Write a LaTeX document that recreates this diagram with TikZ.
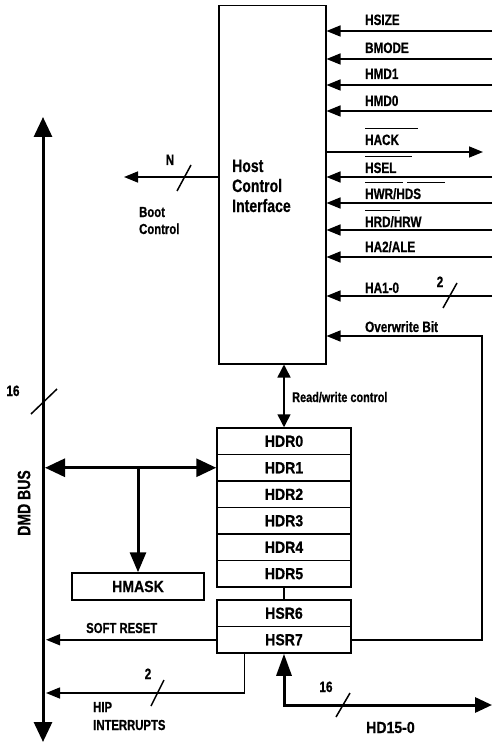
\documentclass[tikz,border=0pt]{standalone}
\usepackage{fontspec}
\setmainfont{Liberation Sans}
\newfontfamily\cfont{Liberation Sans}[FakeStretch=0.78, FakeBold=0.6]
\newfontfamily\rfont{Liberation Sans}[FakeStretch=0.88, FakeBold=0.6]
\usetikzlibrary{arrows.meta}
\newcommand\ovl[2]{\rlap{\hspace*{#1pt}\rule[16pt]{#2pt}{0.8pt}}}
\tikzset{
  box/.style={draw, line width=1.5pt, inner sep=0pt},
  reg/.style={box, minimum width=134pt, minimum height=26.5pt, font=\rfont\fontsize{16}{18}\selectfont\bfseries},
  lbl/.style={inner sep=0pt, anchor=base west, font=\cfont\fontsize{15}{17}\selectfont\bfseries},
  clbl/.style={inner sep=0pt, anchor=base, font=\cfont\fontsize{15}{17}\selectfont\bfseries},
  sig/.style={line width=1.5pt, -{Triangle[length=14pt,width=11pt]}},
  sigdbl/.style={line width=1.5pt, {Triangle[length=13pt,width=13pt]}-{Triangle[length=13pt,width=13pt]}},
  bus/.style={line width=3pt, {Triangle[length=20pt,width=18pt]}-{Triangle[length=20pt,width=18pt]}},
  busone/.style={line width=3pt, -{Triangle[length=20pt,width=16pt]}},
  busd/.style={line width=3pt, {Triangle[length=17pt,width=15pt]}-{Triangle[length=22pt,width=15pt]}},
  slash/.style={line width=1.5pt},
}
\begin{document}
\begin{tikzpicture}[x=1pt,y=-1pt]
\useasboundingbox (0,0) rectangle (492,743);

% Host control interface
\node[box, minimum width=107pt, minimum height=358pt, anchor=north west] (hci) at (218,5) {};
\node[inner sep=0pt, anchor=base west, align=left, font=\cfont\fontsize{18}{20}\selectfont\bfseries] (hcit) at (232,212) {Host\\Control\\Interface};

% input signals
\foreach \n/\y in {a/31, b/59, c/85, d/111, f/177, g/203, h/230, i/257, j/296}{
  \coordinate (r\n) at (492,\y);
  \draw[sig] (r\n) -- (hci.east |- r\n);
}
\coordinate (re) at (483,152);
\draw[sig] (hci.east |- re) -- (re);

\node[lbl] (lhsize) at (365,25) {HSIZE};
\node[lbl] (lbmode) at (365,53) {BMODE};
\node[lbl] (lhmd1) at (365,79) {HMD1};
\node[lbl] (lhmd0) at (365,106) {HMD0};
\node[lbl] (lhack) at (365,145) {\ovl{0}{53}HACK};
\node[lbl] (lhsel) at (365,173) {\ovl{0}{47}HSEL};
\node[lbl] (lhwr) at (365,199) {\ovl{0}{38}\ovl{42}{38}HWR/HDS};
\node[lbl] (lhrd) at (365,227) {\ovl{0}{35}HRD/HRW};
\node[lbl] (lha2) at (365,252) {HA2/ALE};
\node[lbl] (lha1) at (365,293) {HA1-0};
\node[clbl] (n2a) at (440,287) {2};
\draw[slash] (443,308) -- (457,283);
\node[lbl] (lover) at (365,332) {Overwrite Bit};

% boot control
\coordinate (boot) at (124,177);
\draw[sig] (hci.west |- boot) -- (boot);
\draw[slash] (177,191) -- (191,165);
\node[clbl] (nN) at (170,165) {N};
\node[inner sep=0pt, anchor=base west, align=left, font=\cfont\fontsize{14.5}{17}\selectfont\bfseries] (lboot) at (139,234) {Boot\\Control};

% registers
\node[reg] (hdr0) at (284,441.25) {HDR0};
\node[reg] (hdr1) at (284,467.75) {HDR1};
\node[reg] (hdr2) at (284,494.25) {HDR2};
\node[reg] (hdr3) at (284,520.75) {HDR3};
\node[reg] (hdr4) at (284,547.25) {HDR4};
\node[reg] (hdr5) at (284,573.75) {HDR5};
\node[reg] (hsr6) at (284,613.25) {HSR6};
\node[reg] (hsr7) at (284,639.75) {HSR7};
\draw[line width=1.5pt] (hdr5.south) -- (hsr6.north);

% read/write control
\draw[sigdbl] (hdr0.north |- hci.south) -- (hdr0.north);
\node[lbl, font=\cfont\fontsize{14}{16}\selectfont\bfseries] (lrw) at (292,402) {Read/write control};

% overwrite bit loop
\coordinate (ow) at (482,336);
\draw[sig] (hsr7.east) -| (ow) -- (hci.east |- ow);

% DMD bus
\coordinate (dt) at (43,117);
\coordinate (db) at (43,742);
\draw[bus] (db) -- (dt);
\draw[slash] (31,414) -- (57,389);
\node[clbl] (n16a) at (13,396) {16};
\node[rotate=90, inner sep=0pt, font=\cfont\fontsize{18}{20}\selectfont\bfseries] (ldmd) at (24,503) {DMD BUS};

% HMASK
\node[box, minimum width=132pt, minimum height=27pt, font=\rfont\fontsize{16}{18}\selectfont\bfseries] (hmask) at (138,586.5) {HMASK};

% internal bus
\coordinate (bl) at (45,467.75);
\draw[bus] (bl) -- (hdr1.west);
\draw[busone] (hmask.north |- hdr1.west) -- (hmask.north);

% soft reset
\coordinate (sr) at (46,639.75);
\draw[sig] (hsr7.west) -- (sr);
\node[lbl, font=\cfont\fontsize{14.5}{17}\selectfont\bfseries] (lsr) at (86,633) {SOFT RESET};

% HIP interrupts
\coordinate (hip) at (46,693);
\draw[sig] ([xshift=28pt]hsr7.south west) |- (hip);
\draw[slash] (151,706) -- (164,680);
\node[clbl] (n2b) at (148,679) {2};
\node[inner sep=0pt, anchor=base west, align=left, font=\cfont\fontsize{14.5}{18}\selectfont\bfseries] (lhip) at (93,730) {HIP\\INTERRUPTS};

% HD15-0
\coordinate (hd) at (492,705);
\draw[busd] (hd) -| (hsr7.south);
\draw[slash] (336,717) -- (350,693);
\node[clbl] (n16b) at (326,692) {16};
\node[lbl, font=\rfont\fontsize{16}{18}\selectfont\bfseries] (lhd) at (366,733) {HD15-0};
\end{tikzpicture}
\end{document}
